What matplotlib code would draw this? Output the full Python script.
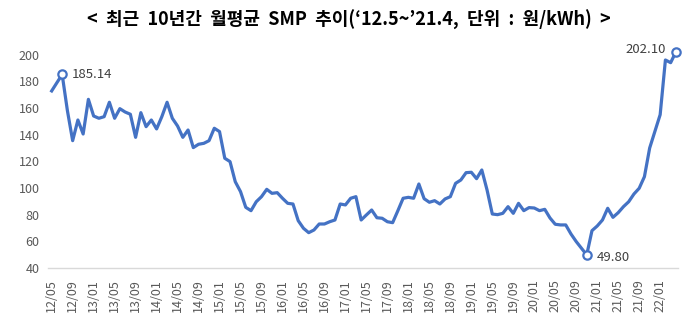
import matplotlib.pyplot as plt

plt.rcParams['font.family'] = ['Noto Sans CJK KR', 'DejaVu Sans']

# monthly average SMP, 12/05 ~ 22/04
smp = [172.8, 179.0, 185.14, 158.0, 135.5, 151.0, 140.5, 166.5, 154.0, 152.3,
       153.5, 164.3, 152.3, 159.5, 157.0, 155.3, 138.0, 156.5, 146.0, 151.0,
       144.3, 153.5, 164.3, 152.3, 146.5, 138.0, 143.5, 130.3, 132.8, 133.5,
       135.5, 144.8, 142.3, 122.3, 119.8, 104.7, 97.3, 85.5, 83.0, 89.7,
       93.5, 99.0, 96.0, 96.5, 92.3, 88.5, 88.0, 75.5, 69.8, 66.5,
       68.5, 73.0, 73.0, 74.7, 76.0, 88.0, 87.3, 92.3, 93.5, 76.0,
       79.8, 83.5, 77.7, 77.3, 74.7, 74.0, 83.0, 92.3, 93.0, 92.3,
       103.0, 92.0, 89.3, 90.5, 88.0, 91.8, 93.5, 103.5, 106.0, 111.5,
       111.8, 107.0, 113.5, 98.5, 80.5, 80.0, 81.0, 86.0, 81.0, 88.5,
       83.0, 85.3, 85.0, 83.0, 84.0, 77.5, 72.8, 72.3, 72.3, 65.5,
       59.8, 54.8, 49.80, 68.0, 71.5, 76.0, 84.8, 78.0, 81.5, 86.0,
       89.7, 95.5, 99.8, 108.5, 130.0, 142.5, 155.0, 196.0, 194.0, 202.10]

tick_labels = ['12/05', '12/09', '13/01', '13/05', '13/09', '14/01', '14/05', '14/09',
               '15/01', '15/05', '15/09', '16/01', '16/05', '16/09', '17/01', '17/05',
               '17/09', '18/01', '18/05', '18/09', '19/01', '19/05', '19/09', '20/01',
               '20/05', '20/09', '21/01', '21/05', '21/09', '22/01']
y_ticks = [40, 60, 80, 100, 120, 140, 160, 180, 200]

# highlighted points: (index, label)
marks = [(2, '185.14'), (102, '49.80'), (119, '202.10')]

blue = '#4472C4'
grey = '#595959'

fig = plt.figure(figsize=(6.98, 3.34), dpi=100)
ax = fig.add_axes([48 / 698, 1 - 268 / 334, 630 / 698, 220 / 334])

x = list(range(len(smp)))
ax.plot(x, smp, color=blue, linewidth=2.3, solid_joinstyle='round')
for i, lab in marks:
    ax.plot(i, smp[i], marker='o', markersize=6, markerfacecolor='white',
            markeredgecolor=blue, markeredgewidth=1.6, clip_on=False)

ax.annotate(marks[0][1], (marks[0][0], smp[marks[0][0]]), xytext=(7, 0),
            textcoords='offset points', ha='left', va='center', fontsize=9.5, color='#404040')
ax.annotate(marks[1][1], (marks[1][0], smp[marks[1][0]]), xytext=(7, -2),
            textcoords='offset points', ha='left', va='center', fontsize=9.5, color='#404040')
ax.annotate(marks[2][1], (marks[2][0], smp[marks[2][0]]), xytext=(-7, 2),
            textcoords='offset points', ha='right', va='center', fontsize=9.5, color='#404040')

ax.set_xlim(-0.7, 119.4)
ax.set_ylim(40, 205)
ax.set_xticks(range(0, 4 * len(tick_labels), 4))
ax.set_xticklabels(tick_labels, rotation=90, fontsize=9, color=grey, fontweight='medium')
ax.set_yticks(y_ticks)
ax.set_yticklabels([str(v) for v in y_ticks], fontsize=9, color=grey, fontweight='medium')
ax.tick_params(length=0, pad=6)
ax.tick_params(axis='x', pad=8)

for s in ['top', 'right', 'left']:
    ax.spines[s].set_visible(False)
ax.spines['bottom'].set_color('#D9D9D9')
ax.spines['bottom'].set_linewidth(1)

fig.text(0.5, 0.94, '<  최근  10년간  월평균  SMP  추이(‘12.5~’21.4,  단위  :  원/kWh)  >',
         ha='center', va='center', fontsize=13, fontweight='bold', color='black')

fig.savefig('out.png', dpi=100)
